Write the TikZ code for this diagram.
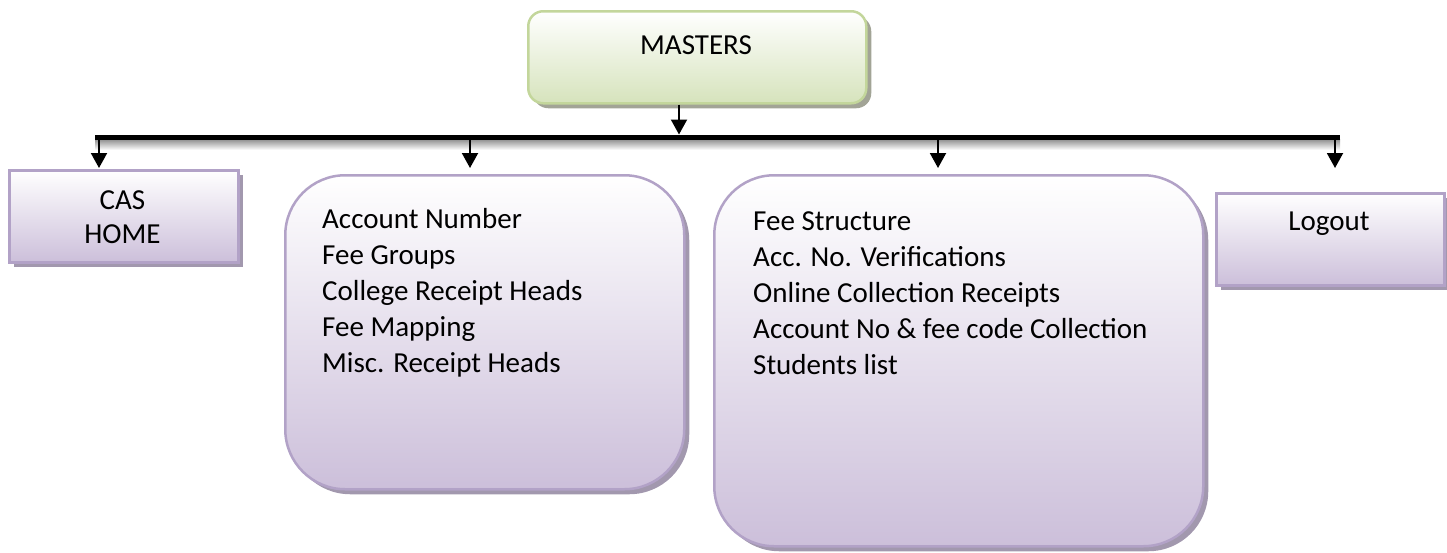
\documentclass[tikz,border=0pt]{standalone}
\usepackage{fontspec}
\setmainfont{Carlito}
\usetikzlibrary{arrows.meta,shadows}
\definecolor{pfill}{RGB}{204,191,218}
\definecolor{pline}{RGB}{178,162,199}
\definecolor{pshadow}{RGB}{162,152,174}
\definecolor{gfill}{RGB}{214,227,188}
\definecolor{gline}{RGB}{195,214,155}
\definecolor{gshadow}{RGB}{162,164,150}
\begin{document}
\begin{tikzpicture}[x=1pt,y=-1pt,
  txt/.style={font=\fontsize{29}{36}\selectfont, inner sep=0pt},
  pbox/.style={draw=pline, line width=2.5pt, top color=white, bottom color=pfill,
    general shadow={shadow xshift=5pt, shadow yshift=-5pt, fill=pshadow},
    anchor=north west, inner sep=0pt},
  gbox/.style={draw=gline, line width=2.5pt, top color=white, bottom color=gfill,
    general shadow={shadow xshift=5pt, shadow yshift=-5pt, fill=gshadow},
    anchor=north west, inner sep=0pt, rounded corners=15pt},
  conn/.style={line width=2pt, -{Triangle[width=16pt,length=15pt]}},
  bar/.style={line width=5pt},
]
\useasboundingbox (0,0) rectangle (1447,552);

% boxes
\node[gbox, minimum width=338pt, minimum height=92pt] (M) at (527,10) {};
\node[pbox, minimum width=229pt, minimum height=92pt] (CAS) at (8,169) {};
\node[pbox, rounded corners=60pt, minimum width=399pt, minimum height=314pt] (B2) at (284,174) {};
\node[pbox, rounded corners=60pt, minimum width=489pt, minimum height=371pt] (B3) at (713,174) {};
\node[pbox, minimum width=228pt, minimum height=92pt] (LO) at (1215,192) {};

% texts
\node[txt, anchor=base] (Mt) at (696,54) {MASTERS};
\node[txt, anchor=base] (CASt1) at (122.5,209) {CAS};
\node[txt, anchor=base] (CASt2) at (122.5,243) {HOME};
\node[txt, anchor=base] (LOt) at (1329,230) {Logout};
\node[txt, anchor=north west, align=left] (B2t) at (322,202.8)
  {\strut Account Number\\Fee Groups\\College Receipt Heads\\Fee Mapping\\Misc. Receipt Heads};
\node[txt, anchor=north west, align=left] (B3t) at (753,204.8)
  {\strut Fee Structure\\Acc. No. Verifications\\Online Collection Receipts\\Account No \& fee code Collection\\Students list};

% bar with soft shadow
\shade[top color=black!45, bottom color=white] (95,139) rectangle (1340,150);
\coordinate (barL) at (95,137);
\coordinate (barR) at (1340,137);
\draw[bar] (barL) -- (barR);

% connectors
\coordinate (mx) at (679,0);
\draw[conn, shorten >=2.5pt] (M.south -| mx) -- (mx |- barL);
\coordinate (a1) at (99,137);
\coordinate (a2) at (470,137);
\coordinate (a3) at (938,137);
\coordinate (a4) at (1335,137);
\draw[conn, shorten >=1pt] (a1) -- (a1 |- CAS.north);
\draw[conn, shorten >=6pt] (a2) -- (a2 |- B2.north);
\draw[conn, shorten >=6pt] (a3) -- (a3 |- B3.north);
\draw[conn, shorten >=24pt] (a4) -- (a4 |- LO.north);
\end{tikzpicture}
\end{document}
